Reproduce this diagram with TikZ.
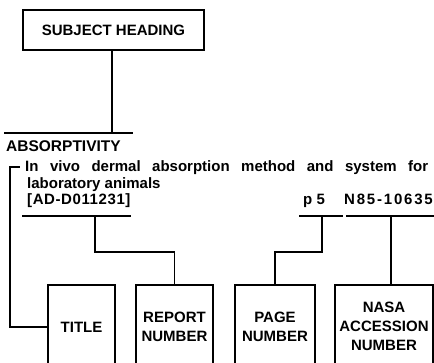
\documentclass[tikz,border=0pt]{standalone}
\usepackage{fontspec}
\setmainfont{Liberation Sans}
\begin{document}
\begin{tikzpicture}[x=1pt,y=-1pt,
  ln/.style={line width=1.8pt,line cap=rect,line join=miter},
  boxtxt/.style={font=\bfseries\fontsize{15}{19}\selectfont,align=center,inner sep=0pt},
  body/.style={font=\bfseries\fontsize{15}{16}\selectfont,inner sep=0pt},
  num/.style={font=\bfseries\fontsize{15}{16}\selectfont\addfontfeature{LetterSpace=4},inner sep=0pt},
  accnum/.style={font=\bfseries\fontsize{15}{16}\selectfont\addfontfeature{LetterSpace=12},inner sep=0pt}]
\useasboundingbox (0,0) rectangle (434,363);
% subject heading
\node[draw,line width=1.8pt,minimum width=181pt,minimum height=40pt,inner sep=0pt,
  font=\bfseries\fontsize{15}{18}\selectfont] (sh) at (113.5,30) {SUBJECT HEADING};
\coordinate (shbar) at (112,133);
\draw[ln] (sh.south -| shbar) -- (shbar);
\coordinate (hl) at (5,133);
\coordinate (hr) at (132,133);
\draw[ln] (hl) -- (hr);
% text lines
\node[anchor=base west,font=\bfseries\fontsize{15.5}{18}\selectfont,inner sep=0pt] (abs) at (6,152) {ABSORPTIVITY};
\node[anchor=base west,body] (l1) at (25,172) {\makebox[403pt][s]{In vivo dermal absorption method and system for}};
\node[anchor=base west,body] (l2) at (27,188.5) {laboratory animals};
\node[anchor=base west,num] (l3) at (27,205) {[AD-D011231]};
\node[anchor=base west,body] (pg) at (303,205) {p 5};
\node[anchor=base east,accnum] (acc) at (433,205) {N85-10635};
% underlines
\coordinate (u1a) at (23,216); \coordinate (u1b) at (130,216);
\coordinate (u2a) at (300,216); \coordinate (u2b) at (342,216);
\coordinate (u3a) at (347,216); \coordinate (u3b) at (434,216);
\draw[ln] (u1a) -- (u1b);
\draw[ln] (u2a) -- (u2b);
\draw[ln] (u3a) -- (u3b);
% boxes (open at bottom)
\coordinate (tA) at (48,285); \coordinate (tB) at (115,285);
\coordinate (rA) at (136,285); \coordinate (rB) at (213,285);
\coordinate (pA) at (235,285); \coordinate (pB) at (315,285);
\coordinate (nA) at (335,285); \coordinate (nB) at (433,285);
\draw[ln] (48,366) -- (tA) -- (tB) -- (115,366);
\draw[ln] (136,366) -- (rA) -- (rB) -- (213,366);
\draw[ln] (235,366) -- (pA) -- (pB) -- (315,366);
\draw[ln] (335,366) -- (nA) -- (nB) -- (433,366);
\node[boxtxt] (title) at (81.5,327) {TITLE};
\node[boxtxt] (report) at (174.5,327) {REPORT\\NUMBER};
\node[boxtxt] (page) at (275,327) {PAGE\\NUMBER};
\node[boxtxt] (nasa) at (384,326) {NASA\\ACCESSION\\NUMBER};
% connectors
\coordinate (bk) at (10,167);
\draw[ln] (19,167) -- (bk) -- (10,327) -- (tA |- title);
\draw[ln] (95,216) -- (95,252) -- (174.5,252) -- (174.5,285);
\draw[ln] (322,216) -- (322,252) -- (275,252) -- (275,285);
\draw[ln] (391,216) -- (391,285);
\end{tikzpicture}
\end{document}
